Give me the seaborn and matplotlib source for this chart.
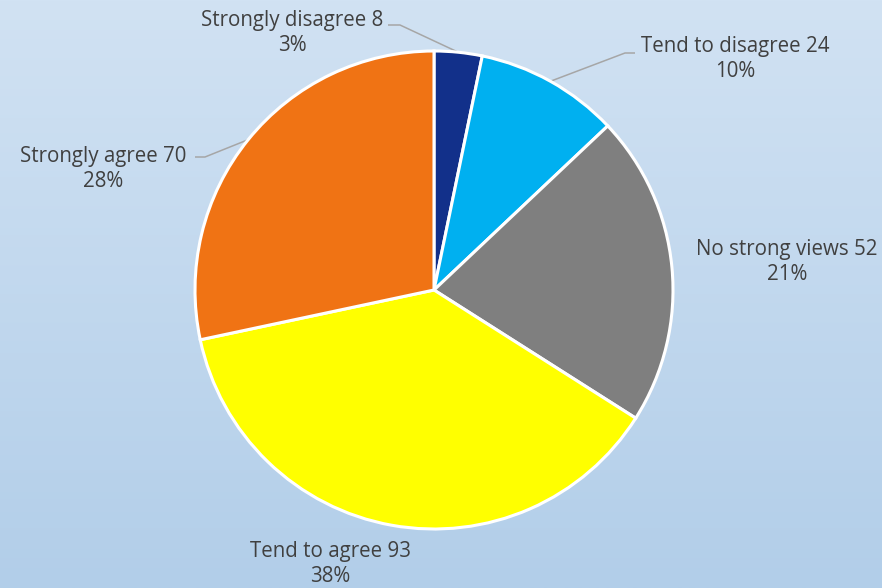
import numpy as np
import matplotlib
matplotlib.use("Agg")
import matplotlib.pyplot as plt
import seaborn as sns

categories = ["Strongly disagree", "Tend to disagree", "No strong views", "Tend to agree", "Strongly agree"]
counts = [8, 24, 52, 93, 70]
colors = ["#12308a", "#00b0f0", "#7f7f7f", "#ffff00", "#f07314"]

sns.set_theme(style="white")
plt.rcParams["font.family"] = ["Open Sans", "DejaVu Sans"]

W, H = 882, 588
fig = plt.figure(figsize=(W / 100, H / 100), dpi=100)

# vertical gradient background
bg = fig.add_axes([0, 0, 1, 1], zorder=0)
grad = np.linspace(0, 1, 256)[:, None]
top = np.array([0xd1, 0xe2, 0xf3]) / 255
bot = np.array([0xb2, 0xce, 0xe9]) / 255
img = top[None, None, :] * (1 - grad[..., None]) + bot[None, None, :] * grad[..., None]
bg.imshow(img, aspect="auto", extent=[0, 1, 0, 1])
bg.axis("off")

ax = fig.add_axes([0, 0, 1, 1], zorder=1)
ax.set_xlim(0, W)
ax.set_ylim(0, H)
ax.set_aspect("equal")
ax.axis("off")

cx, cy, r = 434, H - 290, 239
wedges, _ = ax.pie(counts, colors=colors, startangle=90, counterclock=False,
                   center=(cx, cy), radius=r,
                   wedgeprops=dict(edgecolor="white", linewidth=2.2))
ax.set_xlim(0, W)
ax.set_ylim(0, H)

total = sum(counts)
txt_color = "#404040"
label_pos = [(292, H - 33), (735, H - 59), (787, H - 262), (330, H - 564), (103, H - 169)]
leaders = {
    0: [(388, H - 25), (400, H - 25)],
    1: [(635, H - 53), (625, H - 53)],
    4: [(195, H - 157), (205, H - 157)],
}
for i, (cat, n) in enumerate(zip(categories, counts)):
    pct = round(100 * n / total)
    x, y = label_pos[i]
    ax.text(x, y, f"{cat} {n}\n{pct}%", ha="center", va="center",
            fontsize=14.8, color=txt_color, linespacing=1.3)
    if i in leaders:
        w = wedges[i]
        theta = np.deg2rad((w.theta1 + w.theta2) / 2)
        ex, ey = cx + r * np.cos(theta), cy + r * np.sin(theta)
        (x0, y0), (x1, y1) = leaders[i]
        ax.plot([x0, x1, ex], [y0, y1, ey], color="#a6a6a6", lw=1.1,
                solid_capstyle="butt", zorder=0.5)

fig.savefig("out.png", dpi=100)
